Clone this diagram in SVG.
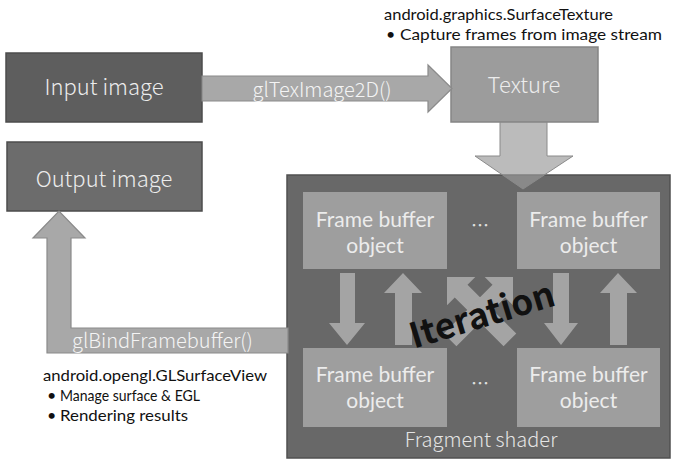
<svg xmlns="http://www.w3.org/2000/svg" width="673" height="462" viewBox="0 0 673 462">
<style>
text{font-family:"Noto Sans CJK KR","Noto Sans",sans-serif}
.box{stroke:#4c4c4c;stroke-width:1.5}
.dark{fill:#5e5e5e}
.mid{fill:#6c6c6c}
.light{fill:#9c9c9c;stroke:#858585;stroke-width:1.5}
.lbl{fill:#ececec;font-size:22px;text-anchor:middle;font-weight:300}
.fbo{fill:#ececec;font-size:21px;text-anchor:middle;font-weight:400;font-family:Lato,"Noto Sans",sans-serif}
.arr{fill:#a8a8a8;stroke:#8a8a8a;stroke-width:1.2}
.inarr{fill:#a4a4a4}
.note{fill:#111;font-size:16px;font-family:Lato,"Noto Sans",sans-serif}
.albl{fill:#f4f4f4;font-size:20px;font-weight:300}
</style>
<g id="fragment-shader">
<rect x="287" y="175" width="383" height="283" fill="#686868" stroke="#505050" stroke-width="1.5"/>
<text x="481" y="447" fill="#e4e4e4" font-size="20" font-weight="300" text-anchor="middle">Fragment shader</text>
</g>
<g id="input-image">
<rect class="box dark" x="6" y="53" width="196" height="69"/>
<text class="lbl" x="104" y="95">Input image</text>
</g>
<g id="output-image">
<rect class="box mid" x="7" y="142" width="195" height="69"/>
<text class="lbl" x="104" y="187">Output image</text>
</g>
<g id="texture">
<rect class="light" x="451" y="47" width="147" height="75"/>
<text class="lbl" x="524" y="93">Texture</text>
</g>
<g id="fbo-top-left">
<rect fill="#9e9e9e" x="303" y="192" width="144" height="77"/>
<text class="fbo"><tspan x="375" y="226.5">Frame buffer</tspan><tspan x="375" y="252.5">object</tspan></text>
</g>
<g id="fbo-top-right">
<rect fill="#9e9e9e" x="517" y="192" width="143" height="77"/>
<text class="fbo"><tspan x="588.5" y="226.5">Frame buffer</tspan><tspan x="588.5" y="252.5">object</tspan></text>
</g>
<g id="fbo-bottom-left">
<rect fill="#9e9e9e" x="303" y="348" width="144" height="79"/>
<text class="fbo"><tspan x="375" y="381.5">Frame buffer</tspan><tspan x="375" y="407.5">object</tspan></text>
</g>
<g id="fbo-bottom-right">
<rect fill="#9e9e9e" x="517" y="348" width="143" height="79"/>
<text class="fbo"><tspan x="588.5" y="381.5">Frame buffer</tspan><tspan x="588.5" y="407.5">object</tspan></text>
</g>
<g id="dots" fill="#e0e0e0" font-size="18" text-anchor="middle">
<text x="480" y="232">…</text>
<text x="480" y="390">…</text>
</g>
<g id="connectors">
<polygon class="arr" points="202,76 428,76 428,65 452,88.5 428,112 428,101 202,101"/>
<text class="albl" x="322" y="97" text-anchor="middle">glTexImage2D()</text>
<polygon points="500,122 547,122 547,156 573,156 523,189 475,156 500,156" fill="#999" fill-opacity="0.67" stroke="#8a8a8a" stroke-width="1"/>
<polygon class="arr" points="288,328 71,328 71,238 85,238 59,211 33,238 47,238 47,353 288,353"/>
<text class="albl" x="72" y="348">glBindFramebuffer()</text>
<polygon class="inarr" points="340,273 355,273 355,323 365,323 347,345 329,323 340,323"/>
<polygon class="inarr" points="403,273 422,293 412,293 412,345 395,345 395,293 384,293"/>
<polygon class="inarr" points="553,273 569,273 569,323 578,323 561,345 544,323 553,323"/>
<polygon class="inarr" points="618,273 637,293 627,293 627,345 610,345 610,293 600,293"/>
<polygon class="inarr" transform="translate(447,277) rotate(-45)" points="0,0 20,20 9,20 9,89 -9,89 -9,20 -20,20"/>
<polygon class="inarr" transform="translate(513,277) rotate(45)" points="0,0 20,20 9,20 9,89 -9,89 -9,20 -20,20"/>
</g>
<text x="482" y="327" fill="#111" font-size="35" font-weight="bold" text-anchor="middle" transform="rotate(-17 483 315)">Iteration</text>
<g id="notes">
<text class="note" x="384" y="20" textLength="229" lengthAdjust="spacingAndGlyphs">android.graphics.SurfaceTexture</text>
<text class="note" y="40"><tspan x="386">•</tspan><tspan x="400" textLength="262" lengthAdjust="spacingAndGlyphs">Capture frames from image stream</tspan></text>
<text class="note" x="43" y="381" textLength="224" lengthAdjust="spacingAndGlyphs">android.opengl.GLSurfaceView</text>
<text class="note" y="401"><tspan x="47">•</tspan><tspan x="60" textLength="140" lengthAdjust="spacingAndGlyphs">Manage surface &amp; EGL</tspan></text>
<text class="note" y="421"><tspan x="47">•</tspan><tspan x="60" textLength="128" lengthAdjust="spacingAndGlyphs">Rendering results</tspan></text>
</g>
</svg>
